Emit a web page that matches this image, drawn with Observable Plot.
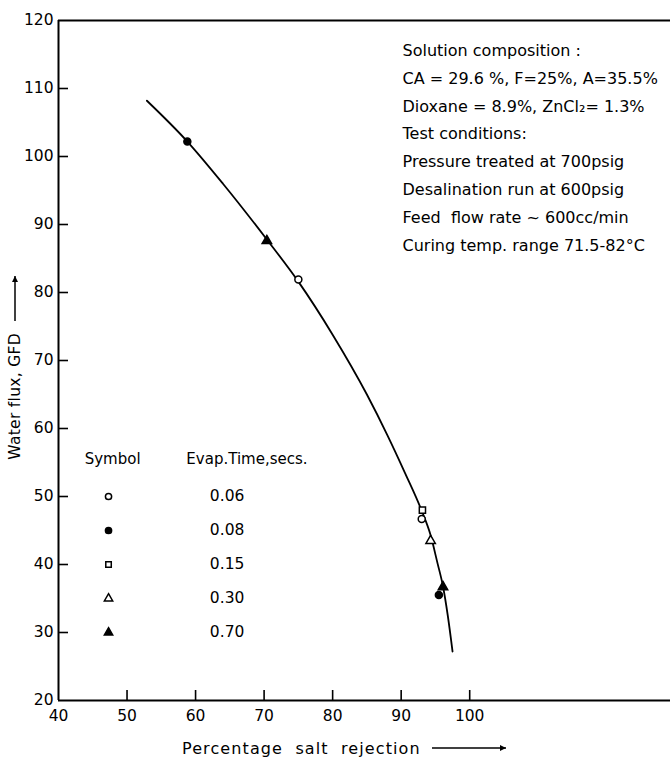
<!DOCTYPE html>
<html><head><meta charset="utf-8">
<script src="https://cdn.jsdelivr.net/npm/d3@7"></script>
<script src="https://cdn.jsdelivr.net/npm/@observablehq/plot@0.6"></script>
<style>body{margin:0;background:#fff} svg{display:block}</style>
</head><body><div id="chart"></div>
<script>
// fitted curve
const curveX = [52.9, 58.8, 64.0, 70.4, 75.0, 80.0, 85.0, 88.0, 90.5, 93.0, 94.3, 95.3, 96.1, 96.8, 97.5];
const curveY = [108.2, 102.2, 96.0, 87.8, 81.6, 73.8, 65.0, 59.0, 53.6, 47.9, 44.3, 40.2, 36.8, 32.5, 27.2];
// measured points
const pointX = [58.8, 70.4, 75.0, 93.1, 93.0, 94.3, 96.1, 95.5];
const pointY = [102.2, 87.6, 81.9, 48.0, 46.7, 43.5, 36.7, 35.5];
const pointTime = [0.08, 0.70, 0.06, 0.15, 0.06, 0.30, 0.70, 0.08];
// legend
const evapTimes = [0.06, 0.08, 0.15, 0.30, 0.70];
const evapLabels = ["0.06", "0.08", "0.15", "0.30", "0.70"];
const symbolNames = ["circle", "circle", "square", "triangle", "triangle"];
const symbolFilled = [false, true, false, false, true];
// ticks
const xTicks = [50, 60, 70, 80, 90, 100];
const xTickLabels = [40, 50, 60, 70, 80, 90, 100];
const yTicks = [30, 40, 50, 60, 70, 80, 90, 100, 110];
const yTickLabels = [20, 30, 40, 50, 60, 70, 80, 90, 100, 110, 120];
// annotation
const annotationLines = [
  "Solution composition :",
  "CA = 29.6 %, F=25%, A=35.5%",
  "Dioxane = 8.9%, ZnCl\u2082= 1.3%",
  "Test conditions:",
  "Pressure treated at 700psig",
  "Desalination run at 600psig",
  "Feed  flow rate ~ 600cc/min",
  "Curing temp. range 71.5-82\u00B0C"
];

const curve = curveX.map((x, i) => ({x, y: curveY[i]}));
const idx = t => evapTimes.indexOf(t);
const pts = pointX.map((x, i) => ({x, y: pointY[i], sym: symbolNames[idx(pointTime[i])], fill: symbolFilled[idx(pointTime[i])] ? "black" : "white"}));
const legend = evapTimes.map((t, i) => ({label: evapLabels[i], sym: symbolNames[i], fill: symbolFilled[i] ? "black" : "white", row: i}));

const font = "'DejaVu Sans', sans-serif";
const plot = Plot.plot({
  width: 670, height: 758,
  marginTop: 20, marginBottom: 58, marginLeft: 58, marginRight: 0,
  x: {domain: [40, 129.3]},
  y: {domain: [20, 120]},
  style: {fontFamily: font, fontSize: "15px", color: "black", background: "white"},
  marks: [
    Plot.ruleX([40], {strokeWidth: 2}),
    Plot.ruleY([20, 120], {strokeWidth: 2}),
    Plot.axisX({ticks: xTicks, tickSize: -10, text: null, label: null, strokeWidth: 1.6}),
    Plot.axisX({ticks: xTickLabels, tickSize: 0, tickPadding: 9, label: null, tickFormat: d => String(d), fontSize: 15.5}),
    Plot.axisY({ticks: yTicks, tickSize: -10, text: null, label: null, strokeWidth: 1.6}),
    Plot.axisY({ticks: yTickLabels, tickSize: 0, tickPadding: 5, label: null, tickFormat: d => String(d), fontSize: 15.5}),
    Plot.line(curve, {x: "x", y: "y", curve: "monotone-x", strokeWidth: 1.8, stroke: "black"}),
    Plot.dot(pts, {x: "x", y: "y", symbol: "sym", fill: "fill", stroke: "black", strokeWidth: 1.5, r: 3.5}),
    // legend
    Plot.text(["Symbol"], {x: () => 47.9, y: () => 55.5, fontSize: 15}),
    Plot.text(["Evap.Time,secs."], {x: () => 67.5, y: () => 55.5, fontSize: 15}),
    Plot.dot(legend, {x: () => 47.3, y: d => 50 - 5 * d.row, symbol: "sym", fill: "fill", stroke: "black", strokeWidth: 1.5, r: 3.1}),
    Plot.text(legend, {x: () => 64.6, y: d => 50 - 5 * d.row, text: "label", fontSize: 15.5}),
    // annotation
    Plot.text([annotationLines.join("\n")], {x: () => 90.2, y: () => 117.7, textAnchor: "start", lineAnchor: "top", lineHeight: 1.74, fontSize: 16, letterSpacing: 0.6})
  ]
});
document.getElementById("chart").appendChild(plot);

// axis titles with arrows
const svg = d3.select(plot);
const defs = svg.append("defs");
defs.append("marker").attr("id", "ah").attr("viewBox", "0 0 10 10").attr("refX", 10).attr("refY", 5)
  .attr("markerWidth", 11).attr("markerHeight", 6).attr("markerUnits", "userSpaceOnUse").attr("orient", "auto")
  .append("path").attr("d", "M0,0L10,5L0,10Z").attr("fill", "black");
const g = svg.append("g").attr("font-family", font).attr("font-size", 16).attr("fill", "black");
g.append("text").attr("x", 182).attr("y", 748).attr("dy", "0.35em").attr("text-anchor", "start")
  .attr("letter-spacing", 1.1).attr("xml:space", "preserve").style("white-space", "pre").text("Percentage  salt  rejection");
g.append("line").attr("x1", 432).attr("x2", 506).attr("y1", 748).attr("y2", 748).attr("stroke", "black").attr("stroke-width", 1.5).attr("marker-end", "url(#ah)");
g.append("text").attr("transform", "translate(15,333) rotate(-90)").attr("text-anchor", "end").attr("dy", "0.35em")
  .attr("letter-spacing", 0.3).attr("font-size", 15.5).text("Water flux, GFD");
g.append("line").attr("x1", 15).attr("x2", 15).attr("y1", 321).attr("y2", 276).attr("stroke", "black").attr("stroke-width", 1.5).attr("marker-end", "url(#ah)");
</script>
</body></html>
